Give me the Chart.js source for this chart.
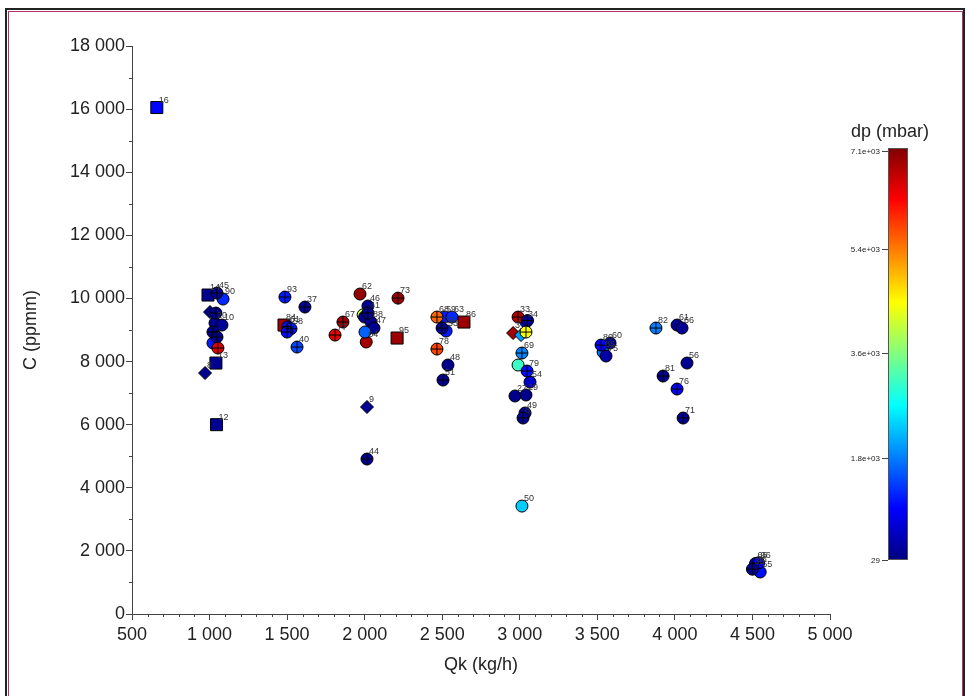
<!DOCTYPE html>
<html>
<head>
<meta charset="utf-8">
<script src="https://cdn.jsdelivr.net/npm/chart.js@4"></script>
<style>
  html, body { margin: 0; padding: 0; background: #fff; }
  #wrap { position: relative; width: 969px; height: 696px; }
</style>
</head>
<body>
<div id="wrap"><canvas id="chart" width="969" height="696"></canvas></div>
<script>
// [label, Qk (kg/h), C (ppmm), dp (mbar)]
const circles = [
    ['62', 1970, 10140, 7000],
    ['46', 2021, 9760, 150],
    ['', 1990, 9480, 4000],
    ['', 2000, 9410, 150],
    ['88', 2041, 9250, 120],
    ['47', 2060, 9060, 150],
    ['64', 2010, 8620, 6900],
    ['', 2002, 8935, 1600],
    ['59', 2512, 9410, 1100],
    ['63', 2563, 9410, 1200],
    ['53', 2525, 8967, 1100],
    ['48', 2537, 7890, 100],
    ['34', 3040, 9252, 1000],
    ['', 2989, 7890, 3100],
    ['54', 3066, 7350, 550],
    ['27', 2969, 6908, 100],
    ['29', 3040, 6940, 100],
    ['49', 3034, 6369, 100],
    ['50', 3014, 3420, 2350],
    ['60', 3582, 8587, 200],
    ['85', 3537, 8302, 1700],
    ['75', 3556, 8175, 300],
    ['61', 4014, 9157, 150],
    ['66', 4046, 9062, 200],
    ['56', 4078, 7953, 150],
    ['90', 1087, 9981, 1200],
    ['20', 1035, 9220, 150],
    ['10', 1080, 9157, 200],
    ['', 1022, 8587, 1100],
    ['36', 4515, 1500, 200],
    ['65', 4520, 1600, 300],
    ['55', 4550, 1330, 1000]
];
const crossed = [
    ['93', 1486, 10044, 1100],
    ['37', 1615, 9727, 150],
    ['73', 2215, 10010, 6950],
    ['41', 2021, 9537, 150],
    ['67', 1860, 9252, 6900],
    ['77', 1809, 8840, 6450],
    ['61', 1505, 9100, 1000],
    ['58', 1525, 9040, 1100],
    ['', 1500, 8935, 1000],
    ['40', 1564, 8460, 1400],
    ['68', 2466, 9410, 5550],
    ['23', 2499, 9062, 150],
    ['78', 2466, 8396, 5800],
    ['51', 2505, 7414, 150],
    ['33', 2989, 9410, 6800],
    ['', 3050, 9300, 200],
    ['', 3040, 8935, 4450],
    ['69', 3014, 8270, 1850],
    ['79', 3047, 7700, 1000],
    ['8', 3021, 6210, 150],
    ['80', 3524, 8523, 900],
    ['82', 3878, 9062, 1800],
    ['81', 3924, 7541, 150],
    ['76', 4014, 7129, 900],
    ['71', 4053, 6210, 200],
    ['44', 2015, 4911, 150],
    ['45', 1048, 10171, 150],
    ['', 1041, 9537, 150],
    ['', 1022, 8935, 150],
    ['', 1048, 8777, 150],
    ['', 1054, 8428, 6500],
    ['96', 4540, 1620, 900],
    ['35', 4500, 1420, 150]
];
const squares = [
    ['16', 660, 16050, 950],
    ['12', 1045, 6000, 150],
    ['13', 1041, 7953, 150],
    ['14', 990, 10108, 150],
    ['84', 1480, 9157, 6900],
    ['95', 2209, 8745, 6950],
    ['86', 2640, 9252, 6950]
];
const diamonds = [
    ['9', 2015, 6560, 150],
    ['8', 971, 7636, 150],
    ['', 1003, 9569, 150],
    ['3', 2957, 8903, 6900],
    ['', 3008, 8840, 2000]
];

const xTicks = [500, 1000, 1500, 2000, 2500, 3000, 3500, 4000, 4500, 5000];
const yTicks = [0, 2000, 4000, 6000, 8000, 10000, 12000, 14000, 16000, 18000];
const cbMin = 29, cbMax = 7150;
const cbTickVals = [29, 1800, 3600, 5400, 7100];
const cbTickLabels = ['29', '1.8e+03', '3.6e+03', '5.4e+03', '7.1e+03'];

const FONT = "'Liberation Sans', Arial, sans-serif";

function clamp(v) { return Math.max(0, Math.min(1, v)); }
function jet(v) {
    const t = clamp((v - cbMin) / (cbMax - cbMin));
    const r = clamp(1.5 - Math.abs(4 * t - 3));
    const g = clamp(1.5 - Math.abs(4 * t - 2));
    const b = clamp(1.5 - Math.abs(4 * t - 1));
    return `rgb(${Math.round(r * 255)},${Math.round(g * 255)},${Math.round(b * 255)})`;
}
function fmt(n) {
    if (n < 1000) return String(n);
    const rest = String(n % 1000).padStart(3, '0');
    return Math.floor(n / 1000) + ' ' + rest;
}
function points(arr) { return arr.map(p => ({ x: p[1], y: p[2], id: p[0] })); }
function colors(arr) { return arr.map(p => jet(p[3])); }

// labels next to each marker
const labelPlugin = {
    id: 'labels',
    afterDatasetsDraw(chart) {
        const ctx = chart.ctx;
        ctx.save();
        ctx.font = '9px ' + FONT;
        ctx.fillStyle = '#333';
        ctx.textAlign = 'left';
        ctx.textBaseline = 'bottom';
        chart.data.datasets.forEach((ds, i) => {
            if (ds.noLabels) return;
            const meta = chart.getDatasetMeta(i);
            meta.data.forEach((el, j) => {
                const id = ds.data[j].id;
                if (id) ctx.fillText(id, el.x + 2, el.y - 3);
            });
        });
        ctx.restore();
    }
};

// minor ticks, colour bar and frame
const extrasPlugin = {
    id: 'extras',
    afterDraw(chart) {
        const ctx = chart.ctx;
        const xs = chart.scales.x, ys = chart.scales.y;
        ctx.save();
        ctx.strokeStyle = '#444';
        ctx.lineWidth = 1;
        ctx.beginPath();
        for (let v = 600; v < 5000; v += 100) {
            if (v % 500 === 0) continue;
            const px = Math.round(xs.getPixelForValue(v)) + 0.5;
            ctx.moveTo(px, ys.bottom);
            ctx.lineTo(px, ys.bottom + 3);
        }
        for (let v = 1000; v < 18000; v += 2000) {
            const py = Math.round(ys.getPixelForValue(v)) + 0.5;
            ctx.moveTo(xs.left - 3, py);
            ctx.lineTo(xs.left, py);
        }
        ctx.stroke();

        // colour bar
        const bx = 888, bw = 20, btop = 148, bbot = 560;
        const grad = ctx.createLinearGradient(0, bbot, 0, btop);
        grad.addColorStop(0, '#000080');
        grad.addColorStop(0.125, '#0000ff');
        grad.addColorStop(0.375, '#00ffff');
        grad.addColorStop(0.625, '#ffff00');
        grad.addColorStop(0.875, '#ff0000');
        grad.addColorStop(1, '#800000');
        ctx.fillStyle = grad;
        ctx.fillRect(bx, btop, bw, bbot - btop);
        ctx.strokeStyle = '#555';
        ctx.strokeRect(bx + 0.5, btop + 0.5, bw - 1, bbot - btop - 1);
        ctx.fillStyle = '#222';
        ctx.font = '8px ' + FONT;
        ctx.textAlign = 'right';
        ctx.textBaseline = 'middle';
        ctx.beginPath();
        cbTickVals.forEach((v, i) => {
            const py = Math.round(bbot - (v - cbMin) / (cbMax - cbMin) * (bbot - btop)) + 0.5;
            ctx.moveTo(bx - 6, py);
            ctx.lineTo(bx, py);
            ctx.fillText(cbTickLabels[i], bx - 8, py);
        });
        ctx.strokeStyle = '#444';
        ctx.stroke();
        ctx.font = '18px ' + FONT;
        ctx.textAlign = 'center';
        ctx.textBaseline = 'alphabetic';
        ctx.fillText('dp (mbar)', 890, 137);

        // frame
        ctx.strokeStyle = '#222';
        ctx.lineWidth = 2;
        ctx.strokeRect(6, 9, 958, 700);
        ctx.strokeStyle = '#b0306a';
        ctx.lineWidth = 1;
        ctx.strokeRect(8.5, 11.5, 954, 700);
        ctx.restore();
    }
};

function baseSet(arr, style, radius, order) {
    return {
        data: points(arr),
        pointStyle: style,
        pointRadius: radius,
        pointHoverRadius: radius,
        backgroundColor: colors(arr),
        borderColor: '#000',
        pointBorderWidth: 1,
        order: order
    };
}

const crossOverlay = {
    data: points(crossed),
    pointStyle: 'cross',
    pointRadius: 6,
    pointHoverRadius: 6,
    backgroundColor: 'rgba(0,0,0,0)',
    borderColor: '#000',
    pointBorderWidth: 1,
    noLabels: true,
    order: 0
};

new Chart(document.getElementById('chart').getContext('2d'), {
    type: 'scatter',
    data: {
        datasets: [
            crossOverlay,
            baseSet(crossed, 'circle', 6, 1),
            baseSet(circles, 'circle', 6, 2),
            baseSet(diamonds, 'rectRot', 6.5, 3),
            baseSet(squares, 'rect', 8.5, 4)
        ]
    },
    options: {
        responsive: false,
        animation: false,
        layout: { padding: { left: 20, top: 46, right: 139, bottom: 0 } },
        plugins: { legend: { display: false }, tooltip: { enabled: false } },
        scales: {
            x: {
                type: 'linear',
                min: 500, max: 5000,
                afterBuildTicks: s => { s.ticks = xTicks.map(v => ({ value: v })); },
                afterFit: s => { s.height = 82; },
                grid: { drawOnChartArea: false, color: '#444', tickLength: 6 },
                border: { color: '#444' },
                ticks: { color: '#222', font: { family: FONT, size: 18 }, padding: 4, maxRotation: 0,
                         callback: v => fmt(v) },
                title: { display: true, text: 'Qk (kg/h)', color: '#222',
                         font: { family: FONT, size: 18 }, padding: { top: 4, bottom: 20 } }
            },
            y: {
                type: 'linear',
                min: 0, max: 18000,
                afterBuildTicks: s => { s.ticks = yTicks.map(v => ({ value: v })); },
                afterFit: s => { s.width = 112; },
                grid: { drawOnChartArea: false, color: '#444', tickLength: 6 },
                border: { color: '#444' },
                ticks: { color: '#222', font: { family: FONT, size: 18 }, padding: 1,
                         callback: v => fmt(v) },
                title: { display: true, text: 'C (ppmm)', color: '#222',
                         font: { family: FONT, size: 18 }, padding: { top: 0, bottom: 4 } }
            }
        }
    },
    plugins: [labelPlugin, extrasPlugin]
});
</script>
</body>
</html>
